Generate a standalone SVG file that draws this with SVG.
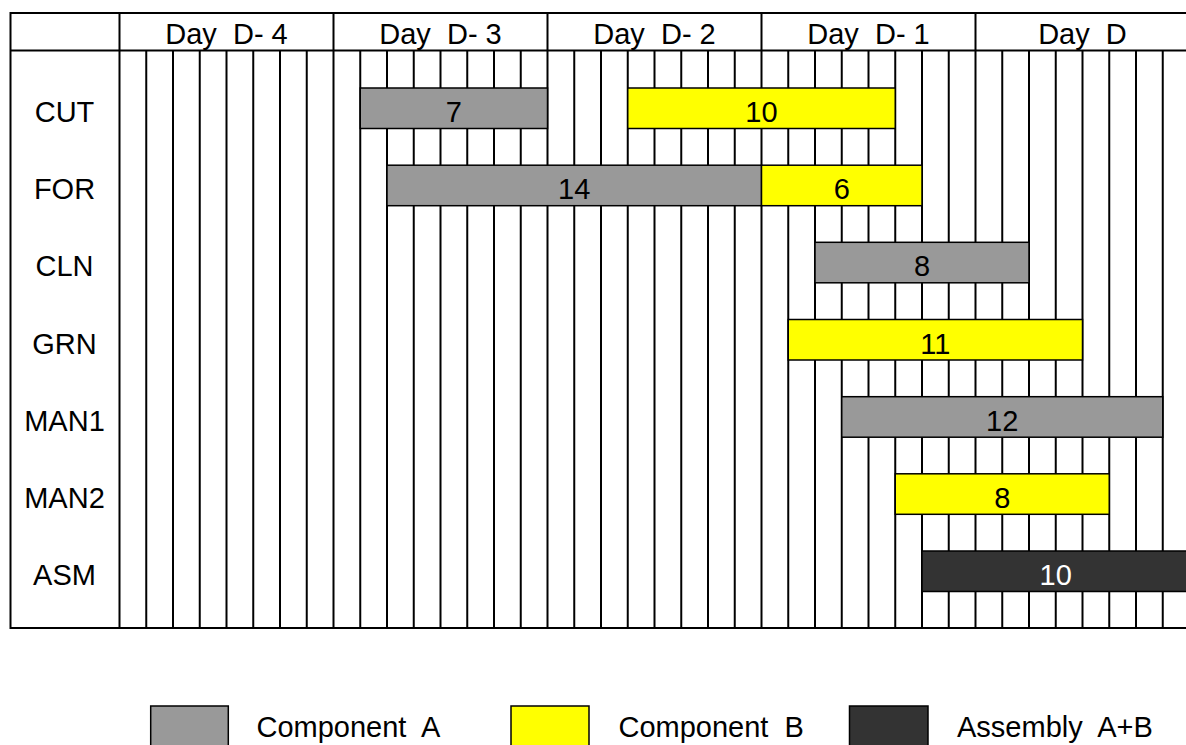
<svg xmlns="http://www.w3.org/2000/svg" width="1186" height="745" viewBox="0 0 1186 745">
  <style>
    .grid line { stroke: #000; stroke-width: 2; }
    .txt { font-family: "Liberation Sans", Arial, sans-serif; font-size: 29px; fill: #000; }
    .mid { text-anchor: middle; }
    .bar { stroke: #000; stroke-width: 1.5; }
    .a { fill: #999999; }
    .b { fill: #ffff00; }
    .ab { fill: #333333; }
    .white { fill: #ffffff; }
  </style>
  <rect x="0" y="0" width="1186" height="745" fill="#ffffff"/>

  <!-- grid -->
  <g id="grid" class="grid">
    <line x1="10" y1="13" x2="1186" y2="13"/>
    <line x1="10" y1="50.5" x2="1186" y2="50.5"/>
    <line x1="10" y1="628" x2="1186" y2="628"/>
    <line x1="10.5" y1="12" x2="10.5" y2="629"/>
    <!-- day boundaries -->
    <line x1="119.5" y1="13" x2="119.5" y2="628"/>
    <line x1="333.5" y1="13" x2="333.5" y2="628"/>
    <line x1="547.5" y1="13" x2="547.5" y2="628"/>
    <line x1="761.5" y1="13" x2="761.5" y2="628"/>
    <line x1="975.5" y1="13" x2="975.5" y2="628"/>
    <!-- hour lines -->
    <line x1="146.25" y1="50.5" x2="146.25" y2="628"/>
    <line x1="173" y1="50.5" x2="173" y2="628"/>
    <line x1="199.75" y1="50.5" x2="199.75" y2="628"/>
    <line x1="226.5" y1="50.5" x2="226.5" y2="628"/>
    <line x1="253.25" y1="50.5" x2="253.25" y2="628"/>
    <line x1="280" y1="50.5" x2="280" y2="628"/>
    <line x1="306.75" y1="50.5" x2="306.75" y2="628"/>
    <line x1="360.25" y1="50.5" x2="360.25" y2="628"/>
    <line x1="387" y1="50.5" x2="387" y2="628"/>
    <line x1="413.75" y1="50.5" x2="413.75" y2="628"/>
    <line x1="440.5" y1="50.5" x2="440.5" y2="628"/>
    <line x1="467.25" y1="50.5" x2="467.25" y2="628"/>
    <line x1="494" y1="50.5" x2="494" y2="628"/>
    <line x1="520.75" y1="50.5" x2="520.75" y2="628"/>
    <line x1="574.25" y1="50.5" x2="574.25" y2="628"/>
    <line x1="601" y1="50.5" x2="601" y2="628"/>
    <line x1="627.75" y1="50.5" x2="627.75" y2="628"/>
    <line x1="654.5" y1="50.5" x2="654.5" y2="628"/>
    <line x1="681.25" y1="50.5" x2="681.25" y2="628"/>
    <line x1="708" y1="50.5" x2="708" y2="628"/>
    <line x1="734.75" y1="50.5" x2="734.75" y2="628"/>
    <line x1="788.25" y1="50.5" x2="788.25" y2="628"/>
    <line x1="815" y1="50.5" x2="815" y2="628"/>
    <line x1="841.75" y1="50.5" x2="841.75" y2="628"/>
    <line x1="868.5" y1="50.5" x2="868.5" y2="628"/>
    <line x1="895.25" y1="50.5" x2="895.25" y2="628"/>
    <line x1="922" y1="50.5" x2="922" y2="628"/>
    <line x1="948.75" y1="50.5" x2="948.75" y2="628"/>
    <line x1="1002.25" y1="50.5" x2="1002.25" y2="628"/>
    <line x1="1029" y1="50.5" x2="1029" y2="628"/>
    <line x1="1055.75" y1="50.5" x2="1055.75" y2="628"/>
    <line x1="1082.5" y1="50.5" x2="1082.5" y2="628"/>
    <line x1="1109.25" y1="50.5" x2="1109.25" y2="628"/>
    <line x1="1136" y1="50.5" x2="1136" y2="628"/>
    <line x1="1162.75" y1="50.5" x2="1162.75" y2="628"/>
  </g>

  <!-- header -->
  <g id="header" class="txt mid">
    <text x="226.5" y="44" xml:space="preserve">Day  D- 4</text>
    <text x="440.5" y="44" xml:space="preserve">Day  D- 3</text>
    <text x="654.5" y="44" xml:space="preserve">Day  D- 2</text>
    <text x="868.5" y="44" xml:space="preserve">Day  D- 1</text>
    <text x="1082.5" y="44" xml:space="preserve">Day  D</text>
  </g>

  <!-- connectors (none in this chart) -->
  <g id="connectors"></g>

  <!-- rows -->
  <g id="row-cut">
    <text class="txt mid" x="64.5" y="122">CUT</text>
    <g id="bar-cut-a"><rect class="bar a" x="360.25" y="88" width="187.25" height="40.5"/><text class="txt mid" x="453.9" y="122">7</text></g>
    <g id="bar-cut-b"><rect class="bar b" x="627.75" y="88" width="267.5" height="40.5"/><text class="txt mid" x="761.5" y="122">10</text></g>
  </g>
  <g id="row-for">
    <text class="txt mid" x="64.5" y="199.2">FOR</text>
    <g id="bar-for-a"><rect class="bar a" x="387" y="165.2" width="374.5" height="40.5"/><text class="txt mid" x="574.25" y="199.2">14</text></g>
    <g id="bar-for-b"><rect class="bar b" x="761.5" y="165.2" width="160.5" height="40.5"/><text class="txt mid" x="841.75" y="199.2">6</text></g>
  </g>
  <g id="row-cln">
    <text class="txt mid" x="64.5" y="276.3">CLN</text>
    <g id="bar-cln-a"><rect class="bar a" x="815" y="242.3" width="214" height="40.5"/><text class="txt mid" x="922" y="276.3">8</text></g>
  </g>
  <g id="row-grn">
    <text class="txt mid" x="64.5" y="353.5">GRN</text>
    <g id="bar-grn-b"><rect class="bar b" x="788.25" y="319.5" width="294.25" height="40.5"/><text class="txt mid" x="935.4" y="353.5">11</text></g>
  </g>
  <g id="row-man1">
    <text class="txt mid" x="64.5" y="430.7">MAN1</text>
    <g id="bar-man1-a"><rect class="bar a" x="841.75" y="396.7" width="321" height="40.5"/><text class="txt mid" x="1002.25" y="430.7">12</text></g>
  </g>
  <g id="row-man2">
    <text class="txt mid" x="64.5" y="507.8">MAN2</text>
    <g id="bar-man2-b"><rect class="bar b" x="895.25" y="473.8" width="214" height="40.5"/><text class="txt mid" x="1002.25" y="507.8">8</text></g>
  </g>
  <g id="row-asm">
    <text class="txt mid" x="64.5" y="585">ASM</text>
    <g id="bar-asm-ab"><rect class="bar ab" x="922" y="551" width="267.5" height="40.5"/><text class="txt mid white" x="1055.75" y="585">10</text></g>
  </g>

  <!-- legend -->
  <g id="legend-a">
    <rect class="bar a" x="150.7" y="706" width="77.6" height="42"/>
    <text class="txt" x="256.5" y="737" xml:space="preserve">Component  A</text>
  </g>
  <g id="legend-b">
    <rect class="bar b" x="511" y="706" width="78" height="42"/>
    <text class="txt" x="618.5" y="737" xml:space="preserve">Component  B</text>
  </g>
  <g id="legend-ab">
    <rect class="bar ab" x="849.5" y="706" width="78.5" height="42"/>
    <text class="txt" x="957" y="737" xml:space="preserve">Assembly  A+B</text>
  </g>
</svg>
